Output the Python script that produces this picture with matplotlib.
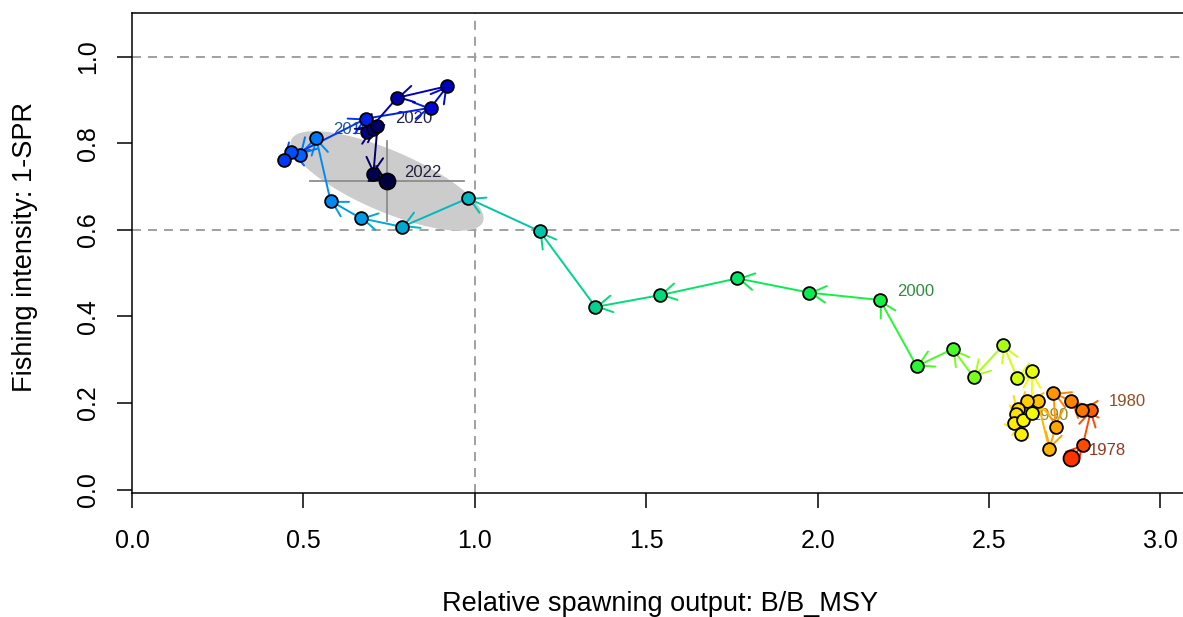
import numpy as np
import matplotlib
matplotlib.use("Agg")
import matplotlib.pyplot as plt
from matplotlib.patches import FancyArrowPatch, Polygon

plt.rcParams["font.family"] = ["Liberation Sans", "DejaVu Sans"]
plt.rcParams["lines.scale_dashes"] = False

# ---- data -------------------------------------------------------------
years = list(range(1978, 2023))

# relative spawning output B/B_MSY by year
b_ratio = [2.740, 2.774, 2.798, 2.770, 2.739, 2.688, 2.694, 2.676, 2.642, 2.611,
           2.585, 2.580, 2.573, 2.592, 2.598, 2.624, 2.626, 2.582, 2.542, 2.455,
           2.394, 2.289, 2.182, 1.976, 1.766, 1.539, 1.352, 1.189, 0.980, 0.788,
           0.667, 0.579, 0.537, 0.489, 0.465, 0.442, 0.683, 0.871, 0.920, 0.773,
           0.686, 0.704, 0.716, 0.704, 0.744]

# fishing intensity 1-SPR by year
one_minus_spr = [0.072, 0.104, 0.185, 0.184, 0.205, 0.223, 0.145, 0.093, 0.204, 0.204,
                 0.186, 0.174, 0.153, 0.129, 0.161, 0.177, 0.274, 0.259, 0.334, 0.260,
                 0.325, 0.285, 0.438, 0.455, 0.488, 0.449, 0.422, 0.597, 0.673, 0.607,
                 0.627, 0.667, 0.813, 0.773, 0.780, 0.761, 0.857, 0.882, 0.932, 0.905,
                 0.826, 0.833, 0.839, 0.729, 0.713]

labelled_years = [1978, 1980, 1990, 2000, 2010, 2020, 2022]

# uncertainty of the final year
final_sd_b = 0.115
final_sd_spr = 0.047
final_corr = -0.75

# reference levels
b_target = 1.0
spr_target = 0.6
spr_top = 1.0

x_ticks = [0.0, 0.5, 1.0, 1.5, 2.0, 2.5, 3.0]
y_ticks = [0.0, 0.2, 0.4, 0.6, 0.8, 1.0]


def rich_colors_short(n):
    x = np.linspace(0, 1, n)
    r = 1.0 / (1.0 + np.exp(20 - 35 * x))
    g = np.clip(-0.8 + 6 * x - 5 * x ** 2, 0, 1)
    b = np.exp(-0.5 * ((x - 0.25) / 0.15) ** 2)
    b = b / b.max()
    return np.column_stack([r, g, b])


n = len(years)
cols = rich_colors_short(n)[::-1]          # early years red, recent years navy
label_cols = np.clip(cols * 0.45 + 0.13, 0, 1)

# ---- figure -----------------------------------------------------------
fig = plt.figure(figsize=(11.83, 6.17), dpi=100)
ax = fig.add_axes([0.1116, 0.2015, 0.8983, 0.7775])
ax.set_xlim(0, 3.10)
ax.set_ylim(-0.007, 1.101)

dash = (0, (6.5, 5.0))
ax.axhline(spr_top, color="#a0a0a0", lw=1.4, linestyle=dash, zorder=1)
ax.axhline(spr_target, color="#a0a0a0", lw=1.4, linestyle=dash, zorder=1)
ax.axvline(b_target, color="#a0a0a0", lw=1.4, linestyle=dash, zorder=1)

# 95% confidence ellipse and intervals for the final year
mx, my = b_ratio[-1], one_minus_spr[-1]
cov = np.array([[final_sd_b ** 2, final_corr * final_sd_b * final_sd_spr],
                [final_corr * final_sd_b * final_sd_spr, final_sd_spr ** 2]])
L = np.linalg.cholesky(cov)
t = np.linspace(0, 2 * np.pi, 200)
c = np.sqrt(5.991)
circ = np.vstack([np.cos(t), np.sin(t)]) * c
ell = (L @ circ).T + np.array([mx, my])
ax.add_patch(Polygon(ell, closed=True, facecolor="#cccccc", edgecolor="none", zorder=2))
ax.plot([mx - 1.96 * final_sd_b, mx + 1.96 * final_sd_b], [my, my],
        color="#8c8c8c", lw=1.3, zorder=3)
ax.plot([mx, mx], [my - 1.96 * final_sd_spr, my + 1.96 * final_sd_spr],
        color="#8c8c8c", lw=1.3, zorder=3)

# year labels sit beneath the trajectory
for yr in labelled_years:
    i = years.index(yr)
    ax.annotate(str(yr), (b_ratio[i], one_minus_spr[i]), xytext=(12.5, 6),
                textcoords="offset points", ha="left", va="center",
                fontsize=12, color=label_cols[i], zorder=4)

# arrows between consecutive years
for i in range(n - 1):
    arr = FancyArrowPatch((b_ratio[i], one_minus_spr[i]),
                          (b_ratio[i + 1], one_minus_spr[i + 1]),
                          arrowstyle="->,head_length=10.5,head_width=6",
                          mutation_scale=1, shrinkA=0, shrinkB=0,
                          color=cols[i], lw=1.4, zorder=5)
    ax.add_patch(arr)

# points
sizes = np.full(n, 9.2)
sizes[0] = 11.5
sizes[-1] = 11.5
for i in range(n):
    ax.plot(b_ratio[i], one_minus_spr[i], "o", ms=sizes[i], mfc=cols[i],
            mec="black", mew=1.3, zorder=6)

# axes styling
for s in ax.spines.values():
    s.set_linewidth(1.1)
ax.set_xticks(x_ticks)
ax.set_xticklabels([f"{v:.1f}" for v in x_ticks])
ax.set_yticks(y_ticks)
ax.set_yticklabels([f"{v:.1f}" for v in y_ticks])
ax.tick_params(axis="both", length=11, width=1.1, labelsize=18)
ax.tick_params(axis="x", pad=15)
ax.tick_params(axis="y", pad=12)
for lab in ax.get_yticklabels():
    lab.set_rotation(90)
    lab.set_va("center")
    lab.set_ha("right")

fig.text(659.5 / 1183, 1 - 604 / 617, "Relative spawning output: B/B_MSY",
         ha="center", va="center", fontsize=19.5)
fig.text(25 / 1183, 1 - 247 / 617, "Fishing intensity: 1-SPR",
         ha="center", va="center", rotation=90, fontsize=19.5)

fig.savefig("out.png", dpi=100)
